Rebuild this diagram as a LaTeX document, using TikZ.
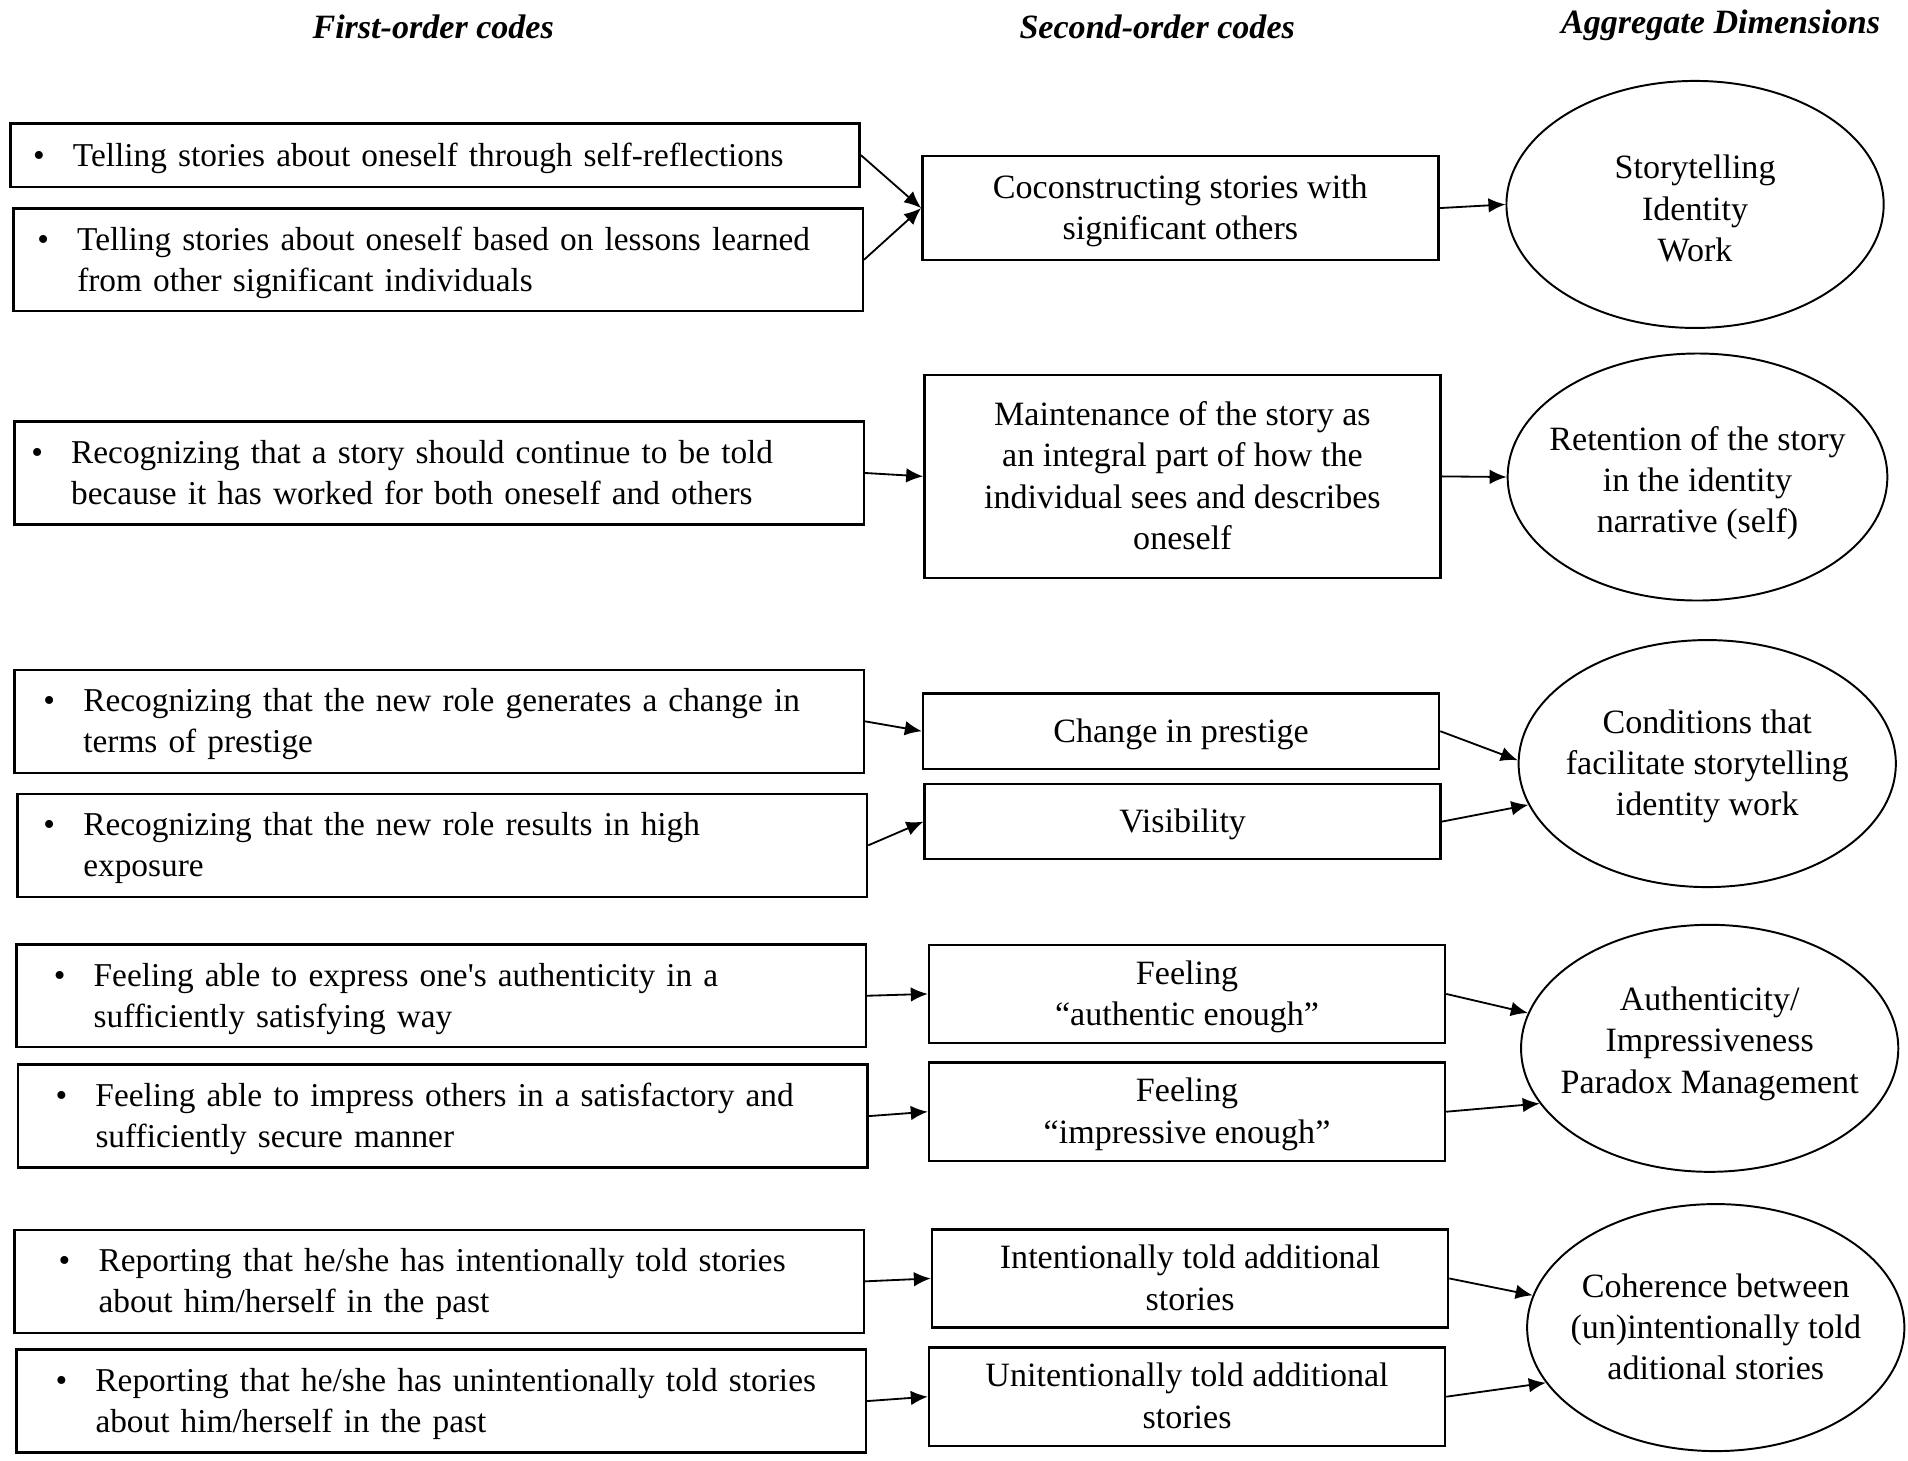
\documentclass[tikz,border=0pt]{standalone}
\usepackage{fontspec}
\setmainfont{Liberation Serif}
\usepackage{tikz}
\usetikzlibrary{shapes.geometric,arrows.meta}

\newcommand{\codefont}[1]{\fontsize{#1}{17pt}\selectfont\setbox\strutbox\hbox{\vrule height 13pt depth 4pt width 0pt}}
\newcommand{\firstcode}[2]{\hspace*{#1}\llap{\textbullet\hspace{11.6pt}}\begin{tabular}[t]{@{}l@{}}#2\end{tabular}}
\newcommand{\lines}[1]{\begin{tabular}{@{}c@{}}#1\end{tabular}}
\newcommand{\aggtext}[2][0pt]{\makebox[0pt]{\raisebox{#1}[13pt][38pt]{\begin{tabular}[t]{@{}c@{}}#2\end{tabular}}}}

\begin{document}
    \begin{tikzpicture}[x=0.5pt, y=-0.5pt,
        every node/.style={font=\codefont{14pt}},
        heading/.style={font=\codefont{14pt}\bfseries\itshape},
        firstbox/.style={draw, line width=1pt, anchor=west, font=\codefont{13.7pt}, text width=349pt, align=left, inner xsep=0pt, inner ysep=0pt, minimum height=42.25pt},
        secondbox/.style={draw, line width=1pt, minimum width=212pt, inner sep=0pt},
        aggbox/.style={draw, ellipse, line width=0.8pt, minimum width=155pt, minimum height=101.5pt, inner sep=0pt},
        arr/.style={-{Latex[length=7pt,width=6pt]}, line width=0.75pt}]
        \fill[white] (0,0) rectangle (1568,1200.5);
        \node[heading] (h1) at (356,22) {First-order codes};
        \node[heading] (h2) at (951,22) {Second-order codes};
        \node[heading] (h3) at (1414,20.5) {Aggregate Dimensions};
        \node[firstbox, minimum height=26pt] (fc1) at (7.5,127.5) {\firstcode{25.75pt}{Telling stories about oneself through self-reflections}};
        \node[firstbox] (fc2) at (10,213.5) {\firstcode{26.25pt}{Telling stories about oneself based on lessons learned\\from other significant individuals}};
        \node[firstbox] (fc3) at (11,388.7) {\firstcode{23.25pt}{Recognizing that a story should continue to be told\\because it has worked for both oneself and others}};
        \node[firstbox] (fc4) at (11,592.8) {\firstcode{28.25pt}{Recognizing that the new role generates a change in\\terms of prestige}};
        \node[firstbox] (fc5) at (13.5,694.7) {\firstcode{27pt}{Recognizing that the new role results in high\\exposure}};
        \node[firstbox] (fc6) at (12.5,818.3) {\firstcode{31.75pt}{Feeling able to express one\textquotesingle s authenticity in a\\sufficiently satisfying way}};
        \node[firstbox] (fc7) at (14,917.2) {\firstcode{31.75pt}{Feeling able to impress others in a satisfactory and\\sufficiently secure manner}};
        \node[firstbox] (fc8) at (11,1053) {\firstcode{34.5pt}{Reporting that he/she has intentionally told stories\\about him/herself in the past}};
        \node[firstbox] (fc9) at (12.5,1151.4) {\firstcode{32.5pt}{Reporting that he/she has unintentionally told stories\\about him/herself in the past}};
        \node[secondbox, minimum height=42.75pt] (sc1) at (970,171) {\lines{Coconstructing stories with\\significant others}};
        \node[secondbox, minimum height=83.5pt] (sc2) at (971.7,391.5) {\lines{Maintenance of the story as\\an integral part of how the\\individual sees and describes\\oneself}};
        \node[secondbox, minimum height=30.85pt] (sc3) at (970.6,600.9) {\lines{Change in prestige}};
        \node[secondbox, minimum height=30.85pt] (sc4) at (971.9,675.2) {\lines{Visibility}};
        \node[secondbox, minimum height=40.15pt] (sc5) at (975.5,816.8) {\lines{Feeling\\“authentic enough”}};
        \node[secondbox, minimum height=40.3pt] (sc6) at (975.5,913.6) {\lines{Feeling\\“impressive enough”}};
        \node[secondbox, minimum height=40.25pt] (sc7) at (978,1050.6) {\lines{Intentionally told additional\\stories}};
        \node[secondbox, minimum height=40.5pt] (sc8) at (975.5,1147.8) {\lines{Unitentionally told additional\\stories}};
        \node[aggbox] (agg1) at (1393,168) {\aggtext[-2pt]{Storytelling\\Identity\\Work}};
        \node[aggbox, minimum width=156pt] (agg2) at (1395,392) {\aggtext[-1.5pt]{Retention of the story\\in the identity\\narrative (self)}};
        \node[aggbox] (agg3) at (1403,627.5) {\aggtext{Conditions that\\facilitate storytelling\\identity work}};
        \node[aggbox] (agg4) at (1405,861.5) {\aggtext[3pt]{Authenticity/\\Impressiveness\\Paradox Management}};
        \node[aggbox] (agg5) at (1410,1091) {\aggtext{Coherence between\\(un)intentionally told\\aditional stories}};
        \draw[arr] (fc1.east) -- (sc1.west);
        \draw[arr] (fc2.east) -- (sc1.west);
        \draw[arr] (fc3.east) -- (sc2.west);
        \draw[arr] (fc4.east) -- (sc3.west);
        \draw[arr] (fc5.east) -- (sc4.west);
        \draw[arr] (fc6.east) -- (sc5.west);
        \draw[arr] (fc7.east) -- (sc6.west);
        \draw[arr] (fc8.east) -- (sc7.west);
        \draw[arr] (fc9.east) -- (sc8.west);
        \draw[arr] (sc1.east) -- (agg1.west);
        \draw[arr] (sc2.east) -- (agg2.west);
        \draw[arr] (sc3.east) -- (agg3.179);
        \draw[arr] (sc4.east) -- (agg3.193);
        \draw[arr] (sc5.east) -- (agg4.169);
        \draw[arr] (sc6.east) -- (agg4.198);
        \draw[arr] (sc7.east) -- (agg5.170);
        \draw[arr] (sc8.east) -- (agg5.198);
    \end{tikzpicture}
\end{document}
